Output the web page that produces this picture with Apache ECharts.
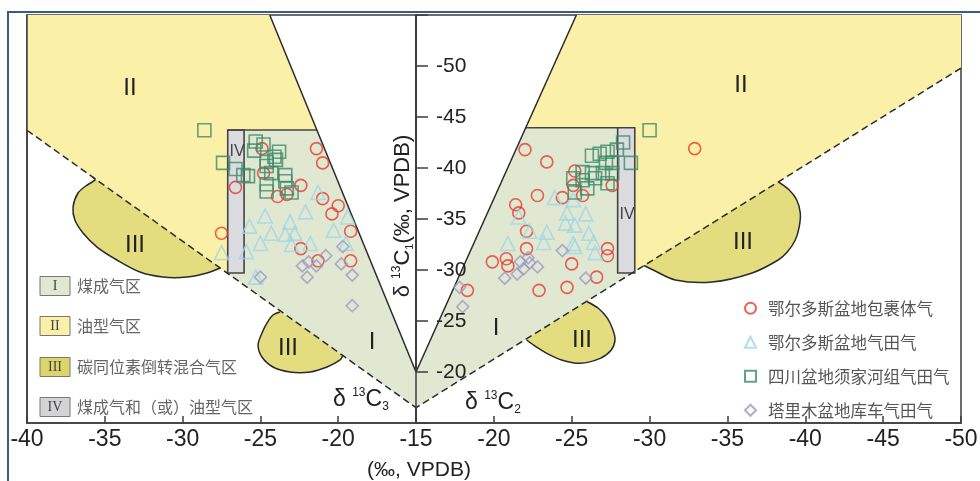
<!DOCTYPE html>
<html><head><meta charset="utf-8">
<script src="https://cdn.jsdelivr.net/npm/echarts/dist/echarts.min.js"></script>
<style>html,body{margin:0;padding:0;background:#fff}#c{width:980px;height:481px}</style>
</head><body><div id="c"></div>
<script>
// ---------- axis ticks ----------
const leftTicks = [-40, -35, -30, -25, -20, -15];      // δ13C3
const rightTicks = [-15, -20, -25, -30, -35, -40, -45, -50]; // δ13C2
const yTicks = [-20, -25, -30, -35, -40, -45, -50];       // δ13C1

// ---------- series names ----------
const seriesNames = ['鄂尔多斯盆地包裹体气', '鄂尔多斯盆地气田气', '四川盆地须家河组气田气', '塔里木盆地库车气田气'];

// ---------- data: left panel [δ13C3, δ13C1] ----------
const leftCircles = [[-24.9,-41.9],[-21.4,-41.9],[-21.0,-40.5],[-24.8,-39.5],[-26.6,-38.1],[-22.4,-38.3],[-23.9,-37.2],[-23.3,-37.4],[-21.0,-37.0],[-20.0,-36.3],[-20.4,-35.5],[-19.2,-33.8],[-27.5,-33.6],[-22.4,-32.1],[-21.3,-30.9],[-19.2,-30.9]];
const leftTriangles = [[-24.7,-35.3],[-22.1,-35.7],[-21.3,-37.6],[-19.4,-35.2],[-25.7,-34.3],[-23.1,-34.7],[-25.0,-32.6],[-24.3,-33.6],[-23.4,-33.5],[-22.8,-33.6],[-23.0,-32.5],[-21.8,-32.6],[-20.3,-33.9],[-19.5,-32.6],[-27.5,-31.7],[-25.9,-31.8],[-25.3,-29.3]];
const leftSquares = [[-28.6,-43.7],[-25.3,-42.6],[-24.8,-42.3],[-25.4,-41.7],[-23.8,-41.6],[-24.1,-41.1],[-24.6,-40.6],[-24.6,-40.2],[-27.4,-40.5],[-26.6,-39.9],[-26.1,-39.3],[-25.8,-39.2],[-24.3,-39.5],[-23.4,-39.3],[-23.4,-38.7],[-24.6,-38.4],[-23.3,-38.0],[-24.6,-37.7],[-23.0,-37.6],[-24.0,-40.8]];
const leftDiamonds = [[-25.0,-29.3],[-22.3,-30.4],[-21.9,-30.8],[-22.0,-29.3],[-20.8,-31.4],[-19.7,-32.3],[-19.8,-30.6],[-19.1,-29.5],[-19.1,-26.5],[-21.4,-30.4]];

// ---------- data: right panel [δ13C2, δ13C1] ----------
const rightCircles = [[-22.0,-41.8],[-23.4,-40.6],[-25.2,-39.7],[-25.1,-38.3],[-25.7,-37.3],[-24.4,-37.1],[-22.8,-37.3],[-21.4,-36.4],[-21.6,-35.6],[-27.6,-38.3],[-22.1,-33.8],[-22.1,-32.1],[-19.9,-30.8],[-20.8,-31.1],[-20.9,-30.4],[-25.0,-30.6],[-26.6,-29.3],[-27.3,-32.1],[-27.3,-31.4],[-18.3,-28.0],[-22.9,-28.0],[-24.7,-28.3],[-32.9,-41.9]];
const rightTriangles = [[-23.9,-37.1],[-25.1,-36.9],[-24.7,-35.6],[-25.9,-35.5],[-24.6,-34.6],[-25.2,-34.4],[-26.1,-33.6],[-23.4,-33.7],[-23.2,-32.7],[-20.9,-32.6],[-25.1,-32.6],[-26.4,-32.7],[-25.2,-32.3],[-26.5,-31.7],[-21.6,-35.2],[-22.3,-33.8]];
const rightSquares = [[-26.3,-41.2],[-26.8,-41.4],[-27.3,-41.6],[-27.9,-41.8],[-28.3,-42.5],[-27.2,-40.5],[-27.6,-40.5],[-27.6,-39.5],[-27.0,-39.5],[-26.3,-39.5],[-25.7,-39.6],[-25.1,-39.0],[-25.7,-38.8],[-26.0,-38.0],[-27.3,-38.5],[-26.5,-39.0],[-28.8,-40.5],[-30.0,-43.7],[-25.2,-37.6]];
const rightDiamonds = [[-17.8,-28.3],[-18.0,-26.4],[-20.7,-29.2],[-21.5,-29.6],[-21.7,-30.8],[-21.9,-30.1],[-22.2,-31.2],[-22.3,-30.7],[-22.8,-30.3],[-24.4,-31.9],[-25.9,-29.2]];

// ---------- zone boundaries (left: [δ13C3, δ13C1], right: [δ13C2, δ13C1]) ----------
const leftZoneII = [[-40,-55],[-24.4,-55],[-15,-20],[-15,-16.5],[-40,-43.7]];
const leftZoneI = [[-27.1,-43.73],[-21.37,-43.73],[-15,-20],[-15,-16.5],[-27.1,-29.66]];
const leftZoneIV = [[-27.1,-43.73],[-26.05,-43.73],[-26.05,-29.7],[-27.1,-29.7]];
const leftSolid = [[-24.4,-55],[-15,-20]];
const leftDashed = [[-40,-43.7],[-15,-16.5]];
const leftTopI = [[-27.1,-43.73],[-21.37,-43.73]];
const leftZoneIIIa = [[-35.76,-39.12],[-35.63,-38.82],[-36.14,-38.33],[-36.72,-37.55],[-37.04,-36.18],[-36.92,-34.9],[-36.4,-33.63],[-35.5,-32.25],[-34.22,-30.98],[-32.74,-29.8],[-31.26,-29.31],[-29.72,-29.31],[-28.43,-29.71],[-27.6,-30.2]];
const leftZoneIIIb = [[-23.74,-25.88],[-24.19,-25.59],[-24.58,-24.8],[-24.9,-23.82],[-25.15,-22.65],[-24.9,-21.47],[-24.19,-20.49],[-23.1,-20.0],[-21.81,-20.0],[-20.72,-20.49],[-19.88,-21.18],[-19.69,-21.67]];

const rightZoneII = [[-25.3,-55],[-50,-55],[-50,-49.8],[-15,-16.5],[-15,-20]];
const rightZoneI = [[-22.05,-43.95],[-29.05,-43.95],[-29.05,-29.87],[-15,-16.5],[-15,-20]];
const rightZoneIV = [[-27.95,-43.95],[-29.05,-43.95],[-29.05,-29.7],[-27.95,-29.7]];
const rightSolid = [[-25.3,-55],[-15,-20]];
const rightDashed = [[-50,-49.8],[-15,-16.5]];
const rightTopI = [[-22.05,-43.95],[-27.95,-43.95]];
const rightZoneIIIa = [[-38.26,-38.63],[-38.97,-37.84],[-39.45,-36.86],[-39.68,-35.59],[-39.61,-34.22],[-39.36,-32.94],[-38.84,-31.76],[-38.26,-30.98],[-36.59,-29.71],[-34.02,-28.82],[-31.65,-29.02],[-30.23,-30.0],[-29.65,-30.44]];
const rightZoneIIIb = [[-26.0,-26.89],[-26.71,-26.25],[-27.3,-25.26],[-27.65,-24.12],[-27.78,-23.14],[-27.54,-22.16],[-26.83,-21.34],[-25.53,-20.85],[-24.35,-21.18],[-23.4,-21.83],[-22.7,-22.48],[-22.11,-23.14]];

// ---------- legend for zones ----------
const zoneNumerals = ['I', 'II', 'III', 'IV'];
const zoneNames = ['煤成气区', '油型气区', '碳同位素倒转混合气区', '煤成气和（或）油型气区'];

// ---------- styles ----------
const C = {
  II: '#faf0a8', I: '#e0e8d1', III: '#e3dd80', IV: '#dcdce0',
  line: '#2a2a2a', frame: '#3c3c3c',
  circle: '#e8392e', tri: '#9fd6ea', sq: '#3d8a6c', dia: '#9d98c8'
};
const zoneColors = [C.I, C.II, '#dcd66a', '#d4d4d6'];
const SANS = '"Liberation Sans", Arial, sans-serif';
const CJK = '"Noto Sans CJK SC", sans-serif';

function bg(api, d) {
  const P = arr => arr.map(p => api.coord(p));
  return {
    type: 'group', children: [
      {type: 'polygon', shape: {points: P(d.IIIa), smooth: 0.3}, style: {fill: C.III}},
      {type: 'polygon', shape: {points: P(d.IIIb), smooth: 0.3}, style: {fill: C.III}},
      {type: 'polygon', shape: {points: P(d.II)}, style: {fill: C.II}},
      {type: 'polygon', shape: {points: P(d.I)}, style: {fill: C.I}},
      {type: 'polygon', shape: {points: P(d.IV)}, style: {fill: C.IV, stroke: '#444', lineWidth: 1.6}},
      {type: 'polyline', shape: {points: P(d.IIIa), smooth: 0.3}, style: {fill: 'none', stroke: C.line, lineWidth: 1.5}},
      {type: 'polyline', shape: {points: P(d.IIIb), smooth: 0.3}, style: {fill: 'none', stroke: C.line, lineWidth: 1.5}},
      {type: 'polyline', shape: {points: P(d.top)}, style: {fill: 'none', stroke: '#444', lineWidth: 1.6}},
      {type: 'polyline', shape: {points: P(d.solid)}, style: {fill: 'none', stroke: C.line, lineWidth: 1.5}},
      {type: 'polyline', shape: {points: P(d.dashed)}, style: {fill: 'none', stroke: C.line, lineWidth: 1.5, lineDash: [7, 4]}}
    ]
  };
}
const leftShapes = {II: leftZoneII, I: leftZoneI, IV: leftZoneIV, IIIa: leftZoneIIIa, IIIb: leftZoneIIIb, top: leftTopI, solid: leftSolid, dashed: leftDashed};
const rightShapes = {II: rightZoneII, I: rightZoneI, IV: rightZoneIV, IIIa: rightZoneIIIa, IIIb: rightZoneIIIb, top: rightTopI, solid: rightSolid, dashed: rightDashed};

function scat(name, data, idx, symbol, size, color) {
  return {
    type: 'scatter', name, data, xAxisIndex: idx, yAxisIndex: idx, symbol, symbolSize: size, z: 4,
    itemStyle: {color: 'rgba(255,255,255,0)', borderColor: color, borderWidth: 1.6}, silent: true
  };
}

const chart = echarts.init(document.getElementById('c'), null, {renderer: 'canvas'});

const graphics = [
  {type: 'polyline', shape: {points: [[8, 481], [8, 12], [980, 12]]}, style: {fill: 'none', stroke: '#3a5a8c', lineWidth: 2}, z: 50},
  // zone numerals
  {type: 'text', x: 130, y: 88, style: {text: 'II', font: '24px ' + SANS, fill: '#222', align: 'center', verticalAlign: 'middle'}, z: 20},
  {type: 'text', x: 741, y: 85, style: {text: 'II', font: '24px ' + SANS, fill: '#222', align: 'center', verticalAlign: 'middle'}, z: 20},
  {type: 'text', x: 135, y: 245, style: {text: 'III', font: '24px ' + SANS, fill: '#222', align: 'center', verticalAlign: 'middle'}, z: 20},
  {type: 'text', x: 288, y: 348, style: {text: 'III', font: '24px ' + SANS, fill: '#222', align: 'center', verticalAlign: 'middle'}, z: 20},
  {type: 'text', x: 743, y: 242, style: {text: 'III', font: '24px ' + SANS, fill: '#222', align: 'center', verticalAlign: 'middle'}, z: 20},
  {type: 'text', x: 582, y: 340, style: {text: 'III', font: '24px ' + SANS, fill: '#222', align: 'center', verticalAlign: 'middle'}, z: 20},
  {type: 'text', x: 372, y: 342, style: {text: 'I', font: '24px ' + SANS, fill: '#222', align: 'center', verticalAlign: 'middle'}, z: 20},
  {type: 'text', x: 496, y: 328, style: {text: 'I', font: '24px ' + SANS, fill: '#222', align: 'center', verticalAlign: 'middle'}, z: 20},
  {type: 'text', x: 237, y: 152, style: {text: 'IV', font: '16px ' + SANS, fill: '#444', align: 'center', verticalAlign: 'middle'}, z: 20},
  {type: 'text', x: 627, y: 215, style: {text: 'IV', font: '16px ' + SANS, fill: '#444', align: 'center', verticalAlign: 'middle'}, z: 20},
  // delta labels
  {type: 'text', x: 333, y: 400, z: 20, style: {text: '{a|δ }{s|13}{a|C}{b|3}', verticalAlign: 'middle', rich: {
    a: {fontSize: 23, fontFamily: SANS, fill: '#222', lineHeight: 26},
    s: {fontSize: 12, fontFamily: SANS, fill: '#222', verticalAlign: 'top', lineHeight: 14},
    b: {fontSize: 12, fontFamily: SANS, fill: '#222', verticalAlign: 'bottom', lineHeight: 14}}}},
  {type: 'text', x: 465, y: 403, z: 20, style: {text: '{a|δ }{s|13}{a|C}{b|2}', verticalAlign: 'middle', rich: {
    a: {fontSize: 23, fontFamily: SANS, fill: '#222', lineHeight: 26},
    s: {fontSize: 12, fontFamily: SANS, fill: '#222', verticalAlign: 'top', lineHeight: 14},
    b: {fontSize: 12, fontFamily: SANS, fill: '#222', verticalAlign: 'bottom', lineHeight: 14}}}},
  // axis titles
  {type: 'text', x: 419, y: 470, z: 20, style: {text: '(‰, VPDB)', font: '21px ' + SANS, fill: '#222', align: 'center', verticalAlign: 'middle'}},
  {type: 'text', x: 403, y: 216, rotation: Math.PI / 2, z: 20, style: {text: '{a|δ }{s|13}{a|C}{b|1}{a|(‰, VPDB)}', align: 'center', verticalAlign: 'middle', rich: {
    a: {fontSize: 22, fontFamily: SANS, fill: '#222', lineHeight: 24},
    s: {fontSize: 12, fontFamily: SANS, fill: '#222', verticalAlign: 'top', lineHeight: 14},
    b: {fontSize: 11, fontFamily: SANS, fill: '#222', verticalAlign: 'bottom', lineHeight: 14}}}}
];
const rowY = [286, 326, 367, 407];
zoneNumerals.forEach((n, i) => {
  graphics.push({type: 'rect', shape: {x: 40, y: rowY[i] - 9.5, width: 30, height: 19}, style: {fill: zoneColors[i], stroke: '#777', lineWidth: 1}, z: 20});
  graphics.push({type: 'text', x: 55, y: rowY[i], style: {text: n, font: '14px "Liberation Serif", serif', fill: '#444', align: 'center', verticalAlign: 'middle'}, z: 21});
  graphics.push({type: 'text', x: 77, y: rowY[i], style: {text: zoneNames[i], font: '16px ' + CJK, fill: '#666', align: 'left', verticalAlign: 'middle'}, z: 21});
});

const axisLine = {show: true, lineStyle: {color: C.frame, width: 1.5}};
const option = {
  backgroundColor: '#fff',
  animation: false,
  grid: [
    {left: 27, top: 15, width: 389, height: 408, show: true, borderColor: C.frame, borderWidth: 1.5, backgroundColor: 'transparent', containLabel: false, outerBoundsMode: 'none'},
    {left: 416, top: 15, width: 545, height: 408, show: true, borderColor: C.frame, borderWidth: 1.5, backgroundColor: 'transparent', containLabel: false, outerBoundsMode: 'none'}
  ],
  xAxis: [
    {gridIndex: 0, type: 'value', min: leftTicks[0], max: leftTicks[leftTicks.length - 1], interval: 5, z: 6,
     axisLine, splitLine: {show: false}, axisTick: {show: true, inside: true, length: 7, lineStyle: {color: C.frame, width: 1.5}},
     axisLabel: {margin: 5, fontSize: 23, fontFamily: SANS, color: '#222', formatter: v => v === -15 ? '' : String(v)}},
    {gridIndex: 1, type: 'value', min: rightTicks[rightTicks.length - 1], max: rightTicks[0], interval: 5, inverse: true, z: 6,
     axisLine, splitLine: {show: false}, axisTick: {show: true, inside: true, length: 7, lineStyle: {color: C.frame, width: 1.5}},
     axisLabel: {margin: 5, fontSize: 23, fontFamily: SANS, color: '#222', showMinLabel: true, showMaxLabel: true, formatter: v => String(v)}}
  ],
  yAxis: [
    {gridIndex: 0, type: 'value', min: -55, max: -15, inverse: true, z: 6, axisLine, splitLine: {show: false}, axisTick: {show: false}, axisLabel: {show: false}},
    {gridIndex: 1, type: 'value', min: -55, max: -15, interval: 5, inverse: true, position: 'left', z: 6, axisLine,
     splitLine: {show: false},
     axisTick: {show: true, inside: true, length: 12, lineStyle: {color: C.frame, width: 1.5}},
     axisLabel: {inside: true, margin: 20, fontSize: 21, fontFamily: SANS, color: '#222', formatter: v => yTicks.includes(v) ? String(v) : ''}}
  ],
  legend: {
    data: seriesNames, orient: 'vertical', left: 739, top: 295, itemWidth: 11, itemHeight: 11, itemGap: 17.5,
    textStyle: {fontSize: 16.5, fontFamily: CJK, color: '#555', padding: [0, 0, 0, 7], lineHeight: 14},
    selectedMode: false
  },
  graphic: graphics,
  series: [
    {type: 'custom', xAxisIndex: 0, yAxisIndex: 0, z: 1, silent: true, data: [[-30, -30]], renderItem: (p, api) => bg(api, leftShapes)},
    {type: 'custom', xAxisIndex: 1, yAxisIndex: 1, z: 1, silent: true, data: [[-30, -30]], renderItem: (p, api) => bg(api, rightShapes)},
    scat(seriesNames[0], leftCircles, 0, 'circle', 12, C.circle),
    scat(seriesNames[1], leftTriangles, 0, 'triangle', 14, C.tri),
    scat(seriesNames[2], leftSquares, 0, 'rect', 13, C.sq),
    scat(seriesNames[3], leftDiamonds, 0, 'diamond', 12, C.dia),
    scat(seriesNames[0], rightCircles, 1, 'circle', 12, C.circle),
    scat(seriesNames[1], rightTriangles, 1, 'triangle', 14, C.tri),
    scat(seriesNames[2], rightSquares, 1, 'rect', 13, C.sq),
    scat(seriesNames[3], rightDiamonds, 1, 'diamond', 12, C.dia)
  ]
};
chart.setOption(option);
</script>
</body></html>
